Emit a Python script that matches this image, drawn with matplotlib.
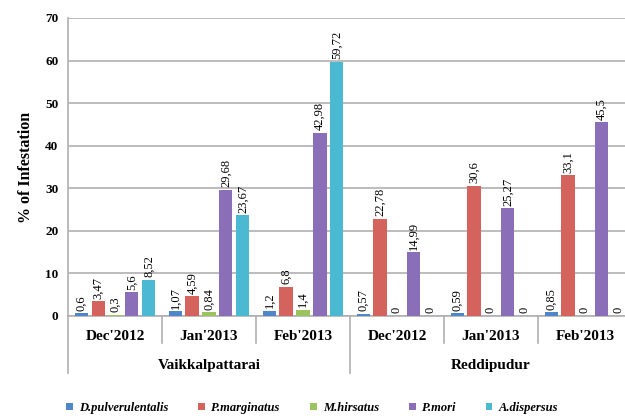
import matplotlib
matplotlib.use('Agg')
import matplotlib.pyplot as plt
import matplotlib.transforms as mtransforms
import numpy as np

plt.rcParams['font.family'] = ['Liberation Serif', 'DejaVu Serif']

months = ["Dec'2012", "Jan'2013", "Feb'2013", "Dec'2012", "Jan'2013", "Feb'2013"]
sites = ['Vaikkalpattarai', 'Reddipudur']
species = ['D.pulverulentalis', 'P.marginatus', 'M.hirsatus', 'P.mori', 'A.dispersus']
colors = ['#4f85c9', '#d4625d', '#9cc45c', '#8a6fb8', '#4bb9d2']

d_pulv = [0.6, 1.07, 1.2, 0.57, 0.59, 0.85]
p_marg = [3.47, 4.59, 6.8, 22.78, 30.6, 33.1]
m_hirs = [0.3, 0.84, 1.4, 0, 0, 0]
p_mori = [5.6, 29.68, 42.98, 14.99, 25.27, 45.5]
a_disp = [8.52, 23.67, 59.72, 0, 0, 0]
series = [d_pulv, p_marg, m_hirs, p_mori, a_disp]

fig = plt.figure(figsize=(6.25, 4.16), dpi=100)
ax = fig.add_axes([68 / 625, 1 - 316 / 416, 564 / 625, 298 / 416])

x = np.arange(len(months))
offsets = [-0.36, -0.18, 0, 0.18, 0.36]
for vals, off, col, name in zip(series, offsets, colors, species):
    bars = ax.bar(x + off, vals, width=0.14, color=col, label=name, zorder=3)
    for b, v in zip(bars, vals):
        txt = ('%g' % v).replace('.', ',')
        ax.text(b.get_x() + b.get_width() / 2, v + 0.6, txt, rotation=90,
                ha='center', va='bottom', fontsize=9, zorder=4)

ax.set_xlim(-0.5, 5.5)
ax.set_ylim(0, 70)
ax.set_yticks(range(0, 71, 10))
ax.set_yticklabels([str(t) for t in range(0, 71, 10)], fontweight='bold', fontsize=9.5)
ax.tick_params(axis='y', length=0, pad=7)
ax.yaxis.grid(True, color='#b0b0b0', linewidth=1.2, zorder=0)
ax.set_xticks([])
for s in ['top', 'right']:
    ax.spines[s].set_visible(False)
ax.spines['left'].set_color('#b0b0b0')
ax.spines['bottom'].set_color('#b0b0b0')
ax.spines['left'].set_linewidth(1.2)
ax.spines['bottom'].set_linewidth(1.2)

ax.set_ylabel('% of Infestation', fontweight='bold', fontsize=11.5, labelpad=8)

# multi-level category axis
trans = mtransforms.blended_transform_factory(ax.transData, ax.transAxes)
for i, m in enumerate(months):
    ax.text(i, -0.068, m, transform=trans, ha='center', va='center',
            fontweight='bold', fontsize=11)
for j, s in enumerate(sites):
    ax.text(j * 3 + 1, -0.165, s, transform=trans, ha='center', va='center',
            fontweight='bold', fontsize=11)
for b in np.arange(-0.5, 6, 1.0):
    low = -0.19 if b in (-0.5, 2.5) else -0.09
    ax.plot([b, b], [0, low], transform=trans, color='#b0b0b0',
            linewidth=1.2, clip_on=False)

leg = fig.legend(loc='center left', bbox_to_anchor=(0.087, 1 - 408 / 416), ncol=5,
                 frameon=False, handlelength=0.55, handleheight=0.55,
                 columnspacing=2.4, handletextpad=0.5,
                 prop={'style': 'italic', 'weight': 'bold', 'size': 9})

fig.savefig('out.png', dpi=100)
